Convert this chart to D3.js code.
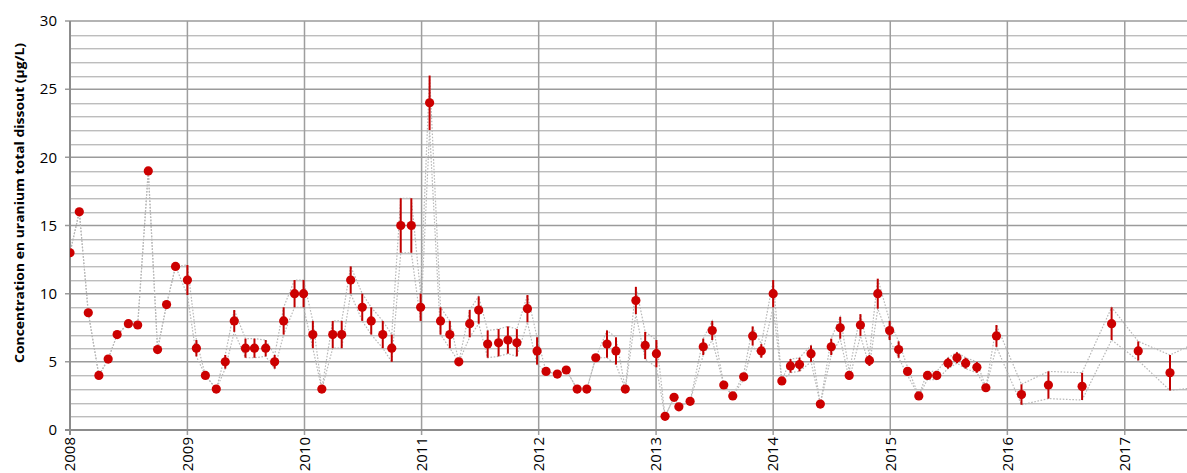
<!DOCTYPE html>
<html>
<head>
<meta charset="utf-8">
<script src="https://cdn.jsdelivr.net/npm/d3@7"></script>
<style>
  body { margin: 0; background: #fff; }
  text { font-family: "Open Sans", "Liberation Sans", sans-serif; fill: #000; }
</style>
</head>
<body>
<script>
var width = 1187, height = 473;
var margin = {left: 70, top: 21, right: 0, bottom: 43};

// sampling dates, concentration (µg/L) and error (+/-)
var dates = ["2008-01-01","2008-01-30","2008-02-27","2008-03-31","2008-04-29","2008-05-27","2008-07-01","2008-07-30","2008-09-01","2008-09-30","2008-10-28","2008-11-25",
  "2009-01-01","2009-01-29","2009-02-26","2009-04-01","2009-04-29","2009-05-27","2009-07-01","2009-07-29","2009-09-02","2009-09-30","2009-10-28","2009-12-01","2009-12-29",
  "2010-01-27","2010-02-24","2010-03-30","2010-04-27","2010-05-25","2010-06-30","2010-07-28","2010-09-02","2010-09-30","2010-10-28","2010-11-30","2010-12-29",
  "2011-01-26","2011-03-01","2011-03-30","2011-04-27","2011-05-31","2011-06-28","2011-07-26","2011-08-29","2011-09-27","2011-10-25","2011-11-27","2011-12-27",
  "2012-01-24","2012-02-28","2012-03-27","2012-04-30","2012-05-30","2012-06-27","2012-08-01","2012-08-29","2012-09-27","2012-10-30","2012-11-28",
  "2013-01-02","2013-01-29","2013-02-26","2013-03-13","2013-04-17","2013-05-28","2013-06-25","2013-07-31","2013-08-28","2013-10-01","2013-10-29","2013-11-25",
  "2014-01-01","2014-01-28","2014-02-24","2014-03-24","2014-04-29","2014-05-28","2014-07-01","2014-07-29","2014-08-26","2014-09-30","2014-10-28","2014-11-23","2014-12-30",
  "2015-01-27","2015-02-24","2015-03-31","2015-04-27","2015-05-26","2015-06-30","2015-07-28","2015-08-24","2015-09-28","2015-10-26","2015-11-28",
  "2016-02-14","2016-05-08","2016-08-21","2016-11-21","2017-02-12","2017-05-22","2017-09-30"];

var values = [13,16,8.6,4,5.2,7,7.8,7.7,19,5.9,9.2,12,
  11,6,4,3,5,8,6,6,6,5,8,10,10,
  7,3,7,7,11,9,8,7,6,15,15,9,
  24,8,7,5,7.8,8.8,6.3,6.4,6.6,6.4,8.9,5.8,
  4.3,4.1,4.4,3,3,5.3,6.3,5.8,3,9.5,6.2,
  5.6,1,2.4,1.7,2.1,6.1,7.3,3.3,2.5,3.9,6.9,5.8,
  10,3.6,4.7,4.8,5.6,1.9,6.1,7.5,4,7.7,5.1,10,7.3,
  5.9,4.3,2.5,4,4,4.9,5.3,4.9,4.6,3.1,6.9,
  2.6,3.3,3.2,7.8,5.8,4.2,5.1];

var errors = [0,0,0,0,0,0,0,0,0,0,0,0,
  1.1,0.6,0,0,0.5,0.8,0.7,0.7,0.6,0.5,1,1,1,
  1,0,1,1,1,1,1,1,1,2,2,1,
  2,1,1,0,1,1,1,1,1,1,1,1,
  0,0,0,0,0,0,1,1,0,1,1,
  1,0,0,0,0,0.6,0.7,0,0,0.2,0.7,0.5,
  1,0,0.5,0.5,0.6,0,0.6,0.8,0.3,0.8,0.4,1.1,0.7,
  0.6,0.3,0,0.3,0.3,0.4,0.4,0.4,0.4,0,0.8,
  0.75,1,1,1.2,0.7,1.3,1.85];

var yearTicks = [2008,2009,2010,2011,2012,2013,2014,2015,2016,2017];
var yTicks = [0,5,10,15,20,25,30];
var yTitle = "Concentration en uranium total dissout (µg/L)";

var parse = d3.timeParse("%Y-%m-%d");
var data = dates.map(function(d, i) {
  return {date: parse(d), v: values[i], e: errors[i]};
});

var svg = d3.select("body").append("svg")
  .attr("width", width).attr("height", height);

var x = d3.scaleTime()
  .domain([new Date(2008, 0, 1), new Date(2017, 6, 14)])
  .range([margin.left, width - margin.right]);

var y = d3.scaleLinear()
  .domain([0, 30])
  .range([height - margin.bottom, margin.top]);

svg.append("clipPath").attr("id", "clip")
  .append("rect")
  .attr("x", margin.left).attr("y", margin.top - 2)
  .attr("width", width - margin.left).attr("height", height - margin.bottom - margin.top + 4);

// horizontal grid: minor every 1, major every 5
var grid = svg.append("g");
d3.range(1, 30).filter(function(v) { return v % 5 != 0; }).forEach(function(v) {
  grid.append("line")
    .attr("x1", margin.left).attr("x2", width)
    .attr("y1", Math.round(y(v)) + 1.5).attr("y2", Math.round(y(v)) + 1.5)
    .attr("stroke", "#e4e4e4").attr("stroke-width", 1);
  grid.append("line")
    .attr("x1", margin.left).attr("x2", width)
    .attr("y1", Math.round(y(v)) + 0.5).attr("y2", Math.round(y(v)) + 0.5)
    .attr("stroke", "#bdbdbd").attr("stroke-width", 1);
});
yTicks.filter(function(v) { return v > 0; }).forEach(function(v) {
  grid.append("line")
    .attr("x1", margin.left - 5).attr("x2", width)
    .attr("y1", y(v)).attr("y2", y(v))
    .attr("stroke", "#9b9b9b").attr("stroke-width", 1.5);
});

// vertical year lines
yearTicks.forEach(function(yr) {
  var xx = x(new Date(yr, 0, 1));
  grid.append("line")
    .attr("x1", xx).attr("x2", xx)
    .attr("y1", y(30)).attr("y2", y(0) + 5)
    .attr("stroke", yr == 2008 ? "#8c8c8c" : "#9e9e9e")
    .attr("stroke-width", yr == 2008 ? 2 : 1.5);
});

// x axis baseline
grid.append("line")
  .attr("x1", margin.left - 5).attr("x2", width)
  .attr("y1", y(0)).attr("y2", y(0))
  .attr("stroke", "#8c8c8c").attr("stroke-width", 2);

// y tick labels
svg.append("g").selectAll("text")
  .data(yTicks).enter().append("text")
  .attr("x", 57).attr("y", function(d) { return y(d); })
  .attr("dy", "0.35em")
  .attr("text-anchor", "end")
  .style("font-size", "15px")
  .text(function(d) { return d; });

// x tick labels (rotated)
svg.append("g").selectAll("text")
  .data(yearTicks).enter().append("text")
  .attr("transform", function(d) {
    return "translate(" + x(new Date(d, 0, 1)) + "," + (y(0) + 7) + ") rotate(-90)";
  })
  .attr("dy", "0.35em")
  .attr("text-anchor", "end")
  .style("font-size", "15px")
  .text(function(d) { return d; });

// y axis title
svg.append("text")
  .attr("transform", "translate(19," + 203 + ") rotate(-90)")
  .attr("dy", "0.35em")
  .attr("text-anchor", "middle")
  .attr("textLength", 320)
  .attr("lengthAdjust", "spacingAndGlyphs")
  .style("font-size", "13px")
  .style("font-weight", "bold")
  .text(yTitle);

var plot = svg.append("g").attr("clip-path", "url(#clip)");

// dotted lines joining the upper and lower error limits
var upper = d3.line()
  .x(function(d) { return x(d.date); })
  .y(function(d) { return y(d.v + d.e); });
var lower = d3.line()
  .x(function(d) { return x(d.date); })
  .y(function(d) { return y(d.v - d.e); });

[upper, lower].forEach(function(gen) {
  plot.append("path")
    .datum(data)
    .attr("d", gen)
    .attr("fill", "none")
    .attr("stroke", "#b8b8b8")
    .attr("stroke-width", 1.2)
    .attr("stroke-dasharray", "1.6,1.6");
});

// error bars
plot.append("g").selectAll("line")
  .data(data.filter(function(d) { return d.e > 0; }))
  .enter().append("line")
  .attr("x1", function(d) { return x(d.date); })
  .attr("x2", function(d) { return x(d.date); })
  .attr("y1", function(d) { return y(d.v + d.e); })
  .attr("y2", function(d) { return y(d.v - d.e); })
  .attr("stroke", "#c00000")
  .attr("stroke-width", 2);

// points
plot.append("g").selectAll("circle")
  .data(data).enter().append("circle")
  .attr("cx", function(d) { return x(d.date); })
  .attr("cy", function(d) { return y(d.v); })
  .attr("r", 4.6)
  .attr("fill", "#cc0000");
</script>
</body>
</html>
